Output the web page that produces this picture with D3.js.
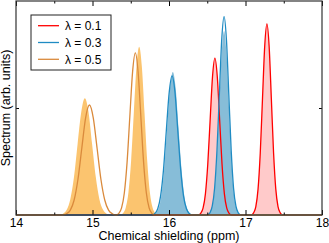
<!DOCTYPE html>
<html>
<head>
<meta charset="utf-8">
<script src="https://cdn.jsdelivr.net/npm/d3@7"></script>
<style>
  body { margin: 0; background: #fff; }
  svg text { font-family: "Liberation Sans", Arial, sans-serif; }
</style>
</head>
<body>
<svg id="chart" width="329" height="243"></svg>
<script>
// spectra: [chemical shielding (ppm), intensity (arb.)]
const lambda01 = [
  [14, 0],
  [16.383, 0], [16.414, 0.008], [16.445, 0.032], [16.476, 0.099], [16.507, 0.238], [16.538, 0.445], [16.569, 0.647],
  [16.60, 0.733],
  [16.631, 0.647], [16.662, 0.445], [16.693, 0.238], [16.724, 0.099], [16.755, 0.032], [16.786, 0.008], [16.817, 0],
  [17.077, 0], [17.106, 0.010], [17.135, 0.039], [17.164, 0.121], [17.193, 0.29], [17.222, 0.542], [17.251, 0.788],
  [17.28, 0.893],
  [17.309, 0.788], [17.338, 0.542], [17.367, 0.29], [17.396, 0.121], [17.425, 0.039], [17.454, 0.010], [17.483, 0],
  [18, 0]
];
const lambda01Fill = lambda01;

const lambda03 = [
  [14, 0],
  [15.778, 0], [15.815, 0.007], [15.853, 0.029], [15.89, 0.088], [15.928, 0.211], [15.965, 0.394], [16.003, 0.574],
  [16.04, 0.65],
  [16.078, 0.574], [16.115, 0.394], [16.153, 0.211], [16.19, 0.088], [16.228, 0.029], [16.265, 0.007], [16.303, 0],
  [16.503, 0], [16.534, 0.010], [16.565, 0.041], [16.596, 0.125], [16.627, 0.301], [16.658, 0.562], [16.689, 0.818],
  [16.72, 0.927],
  [16.751, 0.818], [16.782, 0.562], [16.813, 0.301], [16.844, 0.125], [16.875, 0.041], [16.906, 0.010], [16.937, 0],
  [18, 0]
];
const lambda03Fill = [
  [14, 0],
  [15.788, 0], [15.825, 0.007], [15.863, 0.029], [15.90, 0.090], [15.938, 0.217], [15.975, 0.405], [16.013, 0.590],
  [16.05, 0.668],
  [16.088, 0.590], [16.125, 0.405], [16.163, 0.217], [16.20, 0.090], [16.238, 0.029], [16.275, 0.007], [16.313, 0],
  [16.503, 0], [16.534, 0.010], [16.565, 0.038], [16.596, 0.116], [16.627, 0.279], [16.658, 0.522], [16.689, 0.759],
  [16.72, 0.86],
  [16.751, 0.759], [16.782, 0.522], [16.813, 0.279], [16.844, 0.116], [16.875, 0.038], [16.906, 0.010], [16.937, 0],
  [18, 0]
];

const lambda05 = [
  [14, 0],
  [14.61, 0], [14.66, 0.006], [14.71, 0.023], [14.76, 0.070], [14.81, 0.167], [14.86, 0.312], [14.91, 0.454],
  [14.96, 0.514],
  [15.01, 0.454], [15.06, 0.312], [15.11, 0.167], [15.16, 0.070], [15.21, 0.023], [15.26, 0.006], [15.30, 0],
  [15.31, 0], [15.344, 0.008], [15.38, 0.033], [15.416, 0.103], [15.452, 0.246], [15.488, 0.460], [15.524, 0.669],
  [15.56, 0.758],
  [15.596, 0.669], [15.632, 0.460], [15.668, 0.246], [15.704, 0.103], [15.74, 0.033], [15.776, 0.008], [15.812, 0],
  [18, 0]
];
const lambda05Fill = [
  [14, 0],
  [14.568, 0], [14.615, 0.006], [14.663, 0.024], [14.71, 0.074], [14.758, 0.177], [14.805, 0.331], [14.853, 0.481],
  [14.90, 0.545],
  [14.948, 0.481], [14.995, 0.331], [15.043, 0.177], [15.09, 0.074], [15.138, 0.024], [15.185, 0.006], [15.233, 0],
  [15.365, 0], [15.40, 0.009], [15.435, 0.035], [15.47, 0.106], [15.505, 0.255], [15.54, 0.477], [15.575, 0.694],
  [15.61, 0.786],
  [15.645, 0.694], [15.68, 0.477], [15.715, 0.255], [15.75, 0.106], [15.785, 0.035], [15.82, 0.009], [15.855, 0],
  [18, 0]
];

const seriesNames = ["λ = 0.1", "λ = 0.3", "λ = 0.5"];
const xMajorTicks = [14, 15, 16, 17, 18];
const xMinorTicks = [14.5, 15.5, 16.5, 17.5];
const yTicks = [0.5];

const width = 329;
const height = 243;
const margin = {top: 1, left: 16, right: 7, bottom: 28};

const svg = d3.select('#chart');

const x = d3.scaleLinear().domain([14, 18]).range([margin.left, width - margin.right]);
const y = d3.scaleLinear().domain([0, 1]).range([height - margin.bottom, margin.top]);

const series = [
  {name: seriesNames[0], line: lambda01, fill: lambda01Fill, stroke: '#ff0000', area: '#ffcaca'},
  {name: seriesNames[1], line: lambda03, fill: lambda03Fill, stroke: '#1f8bc3', area: '#87bdd8'},
  {name: seriesNames[2], line: lambda05, fill: lambda05Fill, stroke: '#da8a3c', area: '#fbc46f'}
];

const lineGen = d3.line().x(d => x(d[0])).y(d => y(d[1])).curve(d3.curveMonotoneX);
const areaGen = d3.area().x(d => x(d[0])).y0(y(0)).y1(d => y(d[1])).curve(d3.curveMonotoneX);

// filled spectra first, then the outlines on top
svg.append('g').selectAll('path')
  .data(series)
  .enter().append('path')
    .attr('d', d => areaGen(d.fill))
    .attr('fill', d => d.area);

svg.append('g').selectAll('path')
  .data(series)
  .enter().append('path')
    .attr('d', d => lineGen(d.line))
    .attr('fill', 'none')
    .attr('stroke', d => d.stroke)
    .attr('stroke-width', 1.3);

// axes with inward ticks (box style)
function styleAxis(g) {
  g.select('.domain').remove();
  g.selectAll('line').attr('stroke', '#000');
}
const plotH = y(0) - y(1);
const plotW = x(18) - x(14);

svg.append('g')
  .attr('transform', `translate(0,${y(0)})`)
  .call(d3.axisBottom(x).tickValues(xMajorTicks).tickSize(-5).tickPadding(3.5).tickFormat(d3.format('d')))
  .call(styleAxis)
  .call(g => g.selectAll('text').attr('font-size', 12).attr('fill', '#000'));
svg.append('g')
  .attr('transform', `translate(0,${y(0)})`)
  .call(d3.axisBottom(x).tickValues(xMinorTicks).tickSize(-2.5).tickFormat(''))
  .call(styleAxis);
svg.append('g')
  .attr('transform', `translate(0,${y(1)})`)
  .call(d3.axisTop(x).tickValues(xMajorTicks).tickSize(-5).tickFormat(''))
  .call(styleAxis);
svg.append('g')
  .attr('transform', `translate(0,${y(1)})`)
  .call(d3.axisTop(x).tickValues(xMinorTicks).tickSize(-2.5).tickFormat(''))
  .call(styleAxis);
svg.append('g')
  .attr('transform', `translate(${x(14)},0)`)
  .call(d3.axisLeft(y).tickValues(yTicks).tickSize(-3).tickFormat(''))
  .call(styleAxis);
svg.append('g')
  .attr('transform', `translate(${x(18)},0)`)
  .call(d3.axisRight(y).tickValues(yTicks).tickSize(-3).tickFormat(''))
  .call(styleAxis);

svg.append('rect')
  .attr('x', x(14))
  .attr('y', y(1))
  .attr('width', plotW)
  .attr('height', plotH)
  .attr('fill', 'none')
  .attr('stroke', '#333')
  .attr('stroke-width', 1.2);

// axis titles
svg.append('text')
  .attr('x', (x(14) + x(18)) / 2)
  .attr('y', 240)
  .attr('text-anchor', 'middle')
  .attr('font-size', 12.5)
  .text('Chemical shielding (ppm)');

svg.append('text')
  .attr('transform', `translate(9.5,${(y(0) + y(1)) / 2}) rotate(-90)`)
  .attr('text-anchor', 'middle')
  .attr('font-size', 12.5)
  .text('Spectrum (arb. units)');

// legend
const legend = svg.append('g').attr('transform', 'translate(31,15)');
legend.append('rect')
  .attr('width', 80)
  .attr('height', 55)
  .attr('fill', '#fff')
  .attr('stroke', '#222')
  .attr('stroke-width', 1);
const rows = legend.selectAll('.row')
  .data(series)
  .enter().append('g')
    .attr('class', 'row')
    .attr('transform', (d, i) => `translate(0,${10.7 + i * 16.8})`);
rows.append('line')
  .attr('x1', 7).attr('x2', 28)
  .attr('stroke', d => d.stroke)
  .attr('stroke-width', 1.3);
rows.append('text')
  .attr('x', 34)
  .attr('dy', '0.35em')
  .attr('font-size', 12)
  .text(d => d.name);
</script>
</body>
</html>
